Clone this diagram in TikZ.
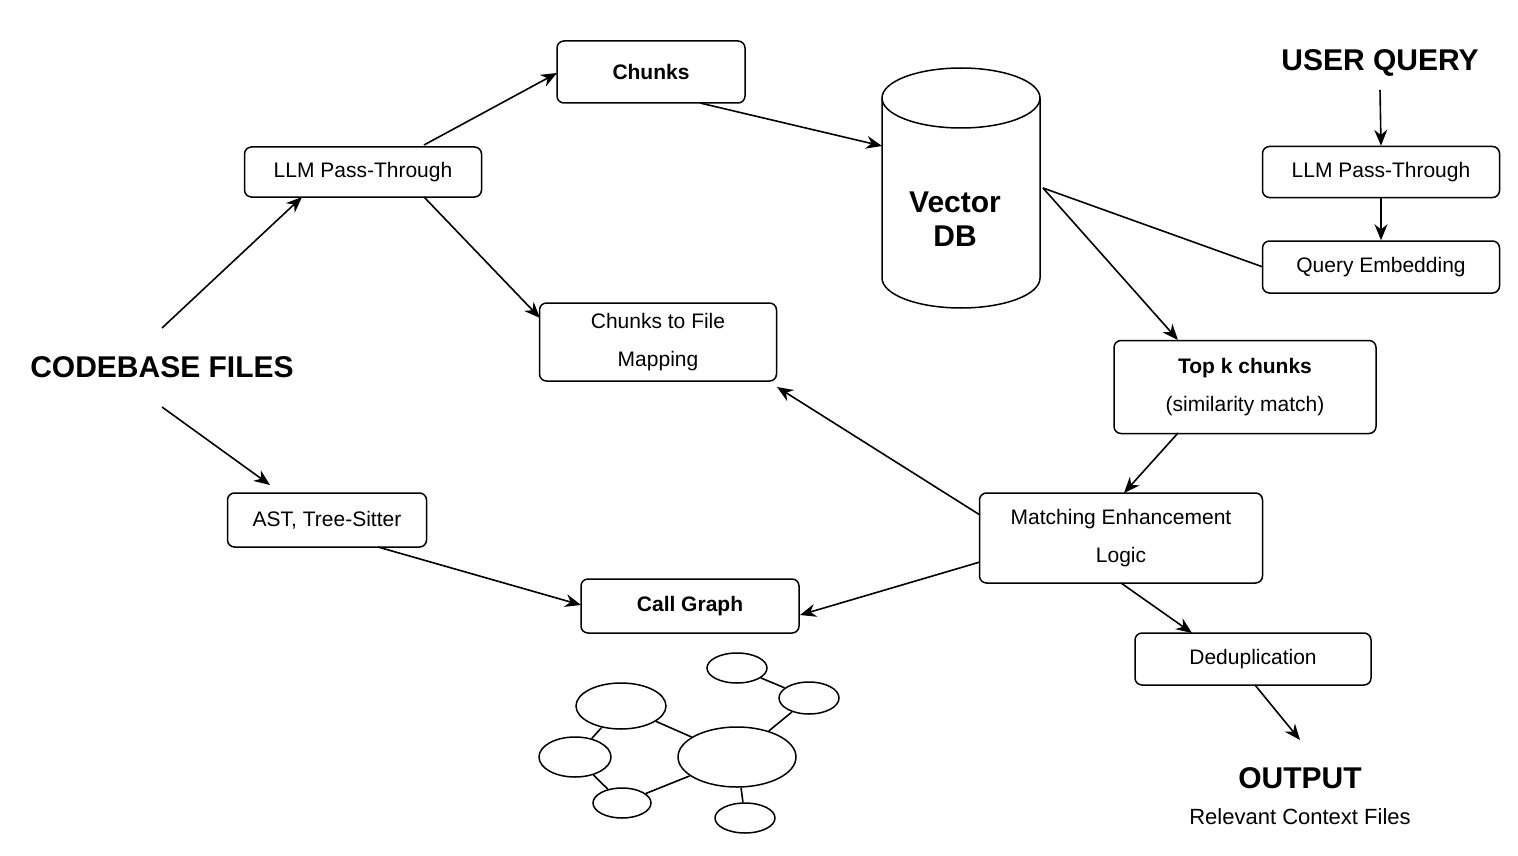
\documentclass[tikz,border=0pt]{standalone}
\usepackage{fontspec}
\setmainfont{Liberation Sans}
\usetikzlibrary{arrows.meta,shapes.geometric}
\begin{document}
\begin{tikzpicture}[x=1pt,y=-1pt,
 box/.style={draw,line width=1.5pt,rounded corners=7pt,align=center,font=\fontsize{21}{38}\selectfont,inner sep=0pt},
 arr/.style={line width=1.6pt,-{Stealth[length=16pt,width=13pt]}},
 ln/.style={line width=1.6pt},
 big/.style={font=\fontsize{30}{34}\selectfont\bfseries},
 el/.style={draw,ellipse,line width=1.5pt,inner sep=0pt}]
\useasboundingbox (0,0) rectangle (1518,856);
\node[box,font=\fontsize{21}{38}\selectfont\bfseries,minimum width=188pt,minimum height=62pt] (chunks) at (651,72) {Chunks};
\node[box,minimum width=237pt,minimum height=50pt] (llmL) at (363,172) {LLM Pass-Through};
\node[box,minimum width=237pt,minimum height=78pt] (map) at (658,342) {Chunks to File\\Mapping};
\node[box,minimum width=237pt,minimum height=51pt] (llmR) at (1381,172) {LLM Pass-Through};
\node[box,minimum width=237pt,minimum height=52pt] (qe) at (1381,267) {Query Embedding};
\node[box,minimum width=262pt,minimum height=93pt] (topk) at (1245,387) {\textbf{Top k chunks}\\(similarity match)};
\node[box,minimum width=283pt,minimum height=90pt] (match) at (1121,538) {Matching Enhancement\\Logic};
\node[box,minimum width=236pt,minimum height=52pt] (dedup) at (1253,659) {Deduplication};
\node[box,minimum width=199pt,minimum height=54pt] (ast) at (327,520) {AST, Tree-Sitter};
\node[box,font=\fontsize{21}{38}\selectfont\bfseries,minimum width=218pt,minimum height=54pt] (cg) at (690,606) {Call Graph};
\node[big] (uq) at (1380,63) {USER QUERY};
\node[big] (cb) at (162,367) {CODEBASE FILES};
\node[big] (out) at (1300,778) {OUTPUT};
\node[font=\fontsize{22}{26}\selectfont] (rcf) at (1300,817) {Relevant Context Files};
% cylinder
\draw[line width=1.5pt,fill=white] (882,98) -- (882,278) arc[start angle=180,end angle=360,x radius=79,y radius=-30] -- (1040,98);
\draw[line width=1.5pt] (961,98) ellipse[x radius=79,y radius=30];
\node[big,align=center] (db) at (955,219) {Vector\\DB};
\coordinate (dbTop) at (882,146);
\coordinate (dbR) at (1043,188);
\coordinate (cb1) at (162,328);
\coordinate (cb2) at (162,407);
\coordinate (outT) at (1300,740);
\draw[arr] (cb1) -- (302,197);
\draw[arr] (424,145) -- (557,73);
\draw[arr] (424,197) -- (540,318);
\draw[arr] (700,103) -- (dbTop);
\draw[arr] (dbR) -- (1178,340);
\draw[ln] (dbR) -- (1263,267);
\draw[arr] (uq.south) ++(0,10) -- (llmR.north);
\draw[arr] (llmR) -- (qe);
\draw[arr] (1178,433) -- (1124,493);
\draw[arr] (980,515) -- (777,387);
\draw[arr] (980,562) -- (800,615);
\draw[arr] (1121,583) -- (1192,633);
\draw[arr] (1255,685) -- (outT);
\draw[arr] (cb2) -- (270,485);
\draw[arr] (378,547) -- (581,605);
% graph
\node[el,minimum width=90pt,minimum height=46pt] (gA) at (621,706) {};
\node[el,minimum width=60pt,minimum height=30pt] (gB) at (737,668) {};
\node[el,minimum width=60pt,minimum height=32pt] (gC) at (809,698) {};
\node[el,minimum width=72pt,minimum height=40pt] (gD) at (575,757) {};
\node[el,minimum width=118pt,minimum height=60pt] (gM) at (737,757) {};
\node[el,minimum width=58pt,minimum height=30pt] (gE) at (622,803) {};
\node[el,minimum width=60pt,minimum height=30pt] (gF) at (745,818) {};
\draw[ln] (gA) -- (gM); \draw[ln] (gB) -- (gC); \draw[ln] (gC) -- (gM);
\draw[ln] (gD) -- (gA); \draw[ln] (gD) -- (gE); \draw[ln] (gE) -- (gM); \draw[ln] (gM) -- (gF);
\end{tikzpicture}
\end{document}
